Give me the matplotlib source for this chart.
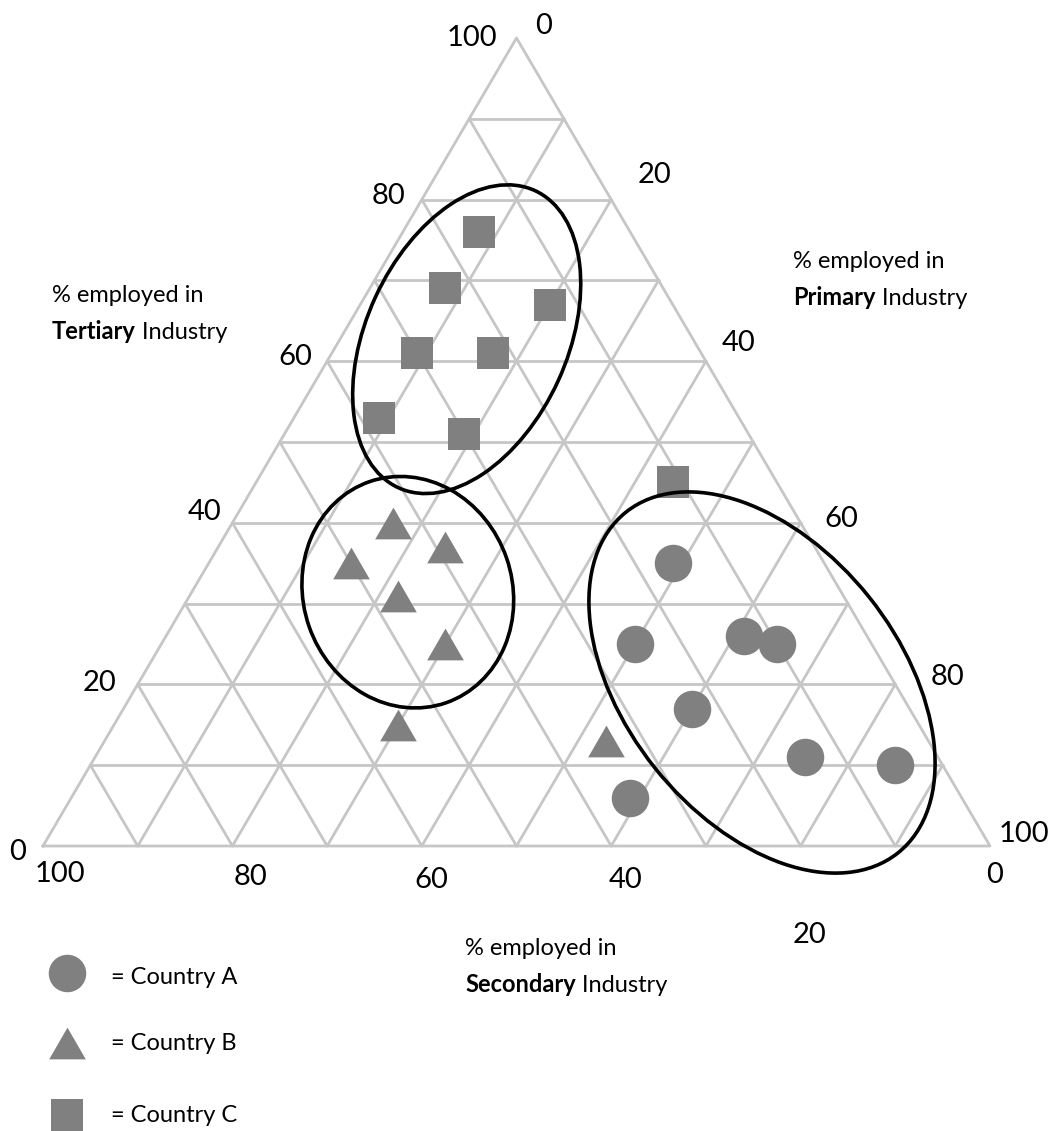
# ternary chart: employment structure by sector for three countries
# readings are (primary, secondary, tertiary) in % off the reference picture

import numpy as np
import matplotlib
matplotlib.use("Agg")
import matplotlib.pyplot as plt
from matplotlib.patches import Ellipse

plt.rcParams["font.family"] = ["Lato", "DejaVu Sans"]

# --- data -------------------------------------------------------------
a_primary   = [49, 50, 61, 65, 60, 75, 85, 59]
a_secondary = [16, 25, 13, 10, 23, 14, 5, 35]
a_tertiary  = [35, 25, 26, 25, 17, 11, 10, 6]

b_primary   = [17, 15, 24, 22, 30, 30, 53]
b_secondary = [43, 50, 39, 47, 45, 55, 34]
b_tertiary  = [40, 35, 37, 31, 25, 15, 13]

c_primary   = [8, 8, 20, 9, 17, 9, 19, 44]
c_secondary = [16, 23, 13, 30, 22, 38, 30, 11]
c_tertiary  = [76, 69, 67, 61, 61, 53, 51, 45]

tick_values = [0, 20, 40, 60, 80, 100]
series_labels = ["= Country A", "= Country B", "= Country C"]

# --- layout -----------------------------------------------------------
W, HPX = 1054, 1131
SCALE = 947.0            # px per unit side
X0, Y0 = 43, 846         # bottom-left vertex in px
H = 808 / SCALE          # triangle height (slightly flat, like the scan)
GRID = "#c6c6c6"
MARK = "#808080"

TRI = [(-1, -0.866), (1, -0.866), (0, 0.866)]


def to_xy(p, s, t):
    tot = np.asarray(p, float) + np.asarray(s, float) + np.asarray(t, float)
    p = np.asarray(p, float) / tot
    t = np.asarray(t, float) / tot
    return p + 0.5 * t, H * t


def pix(x, y):
    # reference pixel position -> data units (for annotations only)
    return (x - X0) / SCALE, (Y0 - y) / SCALE


fig = plt.figure(figsize=(W / 100, HPX / 100), dpi=100)
ax = fig.add_axes([0, 0, 1, 1])
ax.set_xlim(-X0 / SCALE, (W - X0) / SCALE)
ax.set_ylim(-(HPX - Y0) / SCALE, Y0 / SCALE)
ax.axis("off")

# grid every 10 %
for k in range(1, 10):
    f = k * 10
    for a, b in [((0, 100 - f, f), (100 - f, 0, f)),
                 ((f, 100 - f, 0), (f, 0, 100 - f)),
                 ((100 - f, f, 0), (0, f, 100 - f))]:
        xa, ya = to_xy(*a)
        xb, yb = to_xy(*b)
        ax.plot([xa, xb], [ya, yb], color=GRID, lw=2.0, zorder=1,
                solid_capstyle="round")

# outline
vx, vy = to_xy([0, 100, 0, 0], [100, 0, 0, 100], [0, 0, 100, 0])
ax.plot(vx, vy, color=GRID, lw=2.0, zorder=1, solid_joinstyle="round")

# tick labels (offsets in px, screen y down) -- hand placed in the original
left_off   = [(-25, 6), (-38, -1), (-28, -11), (-32, -4), (-33, -4), (-45, 0)]
right_off  = [(27, -12), (43, -25), (33, -18), (41, -4), (52, -7), (34, -12)]
bottom_off = [(5, 29), (9, 89), (14, 34), (10, 34), (18, 31), (17, 28)]

for v, (dx, dy) in zip(tick_values, left_off):
    ax.annotate(str(v), to_xy(0, 100 - v, v), xytext=(dx, -dy),
                textcoords="offset pixels", ha="center", va="center",
                fontsize=21)
for v, (dx, dy) in zip(tick_values, right_off):
    ax.annotate(str(v), to_xy(v, 0, 100 - v), xytext=(dx, -dy),
                textcoords="offset pixels", ha="center", va="center",
                fontsize=21)
for v, (dx, dy) in zip(tick_values, bottom_off):
    ax.annotate(str(v), to_xy(100 - v, v, 0), xytext=(dx, -dy),
                textcoords="offset pixels", ha="center", va="center",
                fontsize=21)

# axis titles
def axis_title(x, y, bold_word, size=17):
    ax.text(*pix(x, y), "% employed in", fontsize=size, ha="left",
            va="baseline")
    bt = ax.text(*pix(x, y + 37), bold_word, fontsize=size,
                 fontweight="bold", ha="left", va="baseline")
    ax.annotate(" Industry", xy=(1, 0), xycoords=bt, fontsize=size,
                ha="left", va="bottom")

axis_title(52, 302, "Tertiary")
axis_title(793, 268, "Primary")
axis_title(465, 955, "Secondary")

# points
ms = dict(ls="none", color=MARK, mew=0, zorder=3)
ax.plot(*to_xy(a_primary, a_secondary, a_tertiary), marker="o", ms=27, **ms)
ax.plot(*to_xy(b_primary, b_secondary, b_tertiary), marker=TRI, ms=26.4, **ms)
ax.plot(*to_xy(c_primary, c_secondary, c_tertiary), marker="s", ms=23.6, **ms)

# hand drawn rings (centre px, major px, minor px, angle)
rings = [((466.7, 339.2), 327, 201, 65.3),
         ((407.8, 592.2), 234, 209, 109),
         ((762.0, 682.5), 436, 274, -51.4)]
for (cx, cy), w, h, ang in rings:
    ax.add_patch(Ellipse(pix(cx, cy), w / SCALE, h / SCALE, angle=ang,
                         fill=False, ec="black", lw=2.6, zorder=5))

# legend, drawn by hand like the original
legend_rows = [("o", 27, 973, 978), (TRI, 26.4, 1043, 1043), ("s", 23.6, 1115, 1115)]
for (m, size, my, ty), lab in zip(legend_rows, series_labels):
    ax.plot(*pix(67, my), marker=m, ms=size, **ms)
    ax.text(*pix(111, ty), lab, fontsize=17, ha="left", va="center")

fig.savefig("out.png", dpi=100)
